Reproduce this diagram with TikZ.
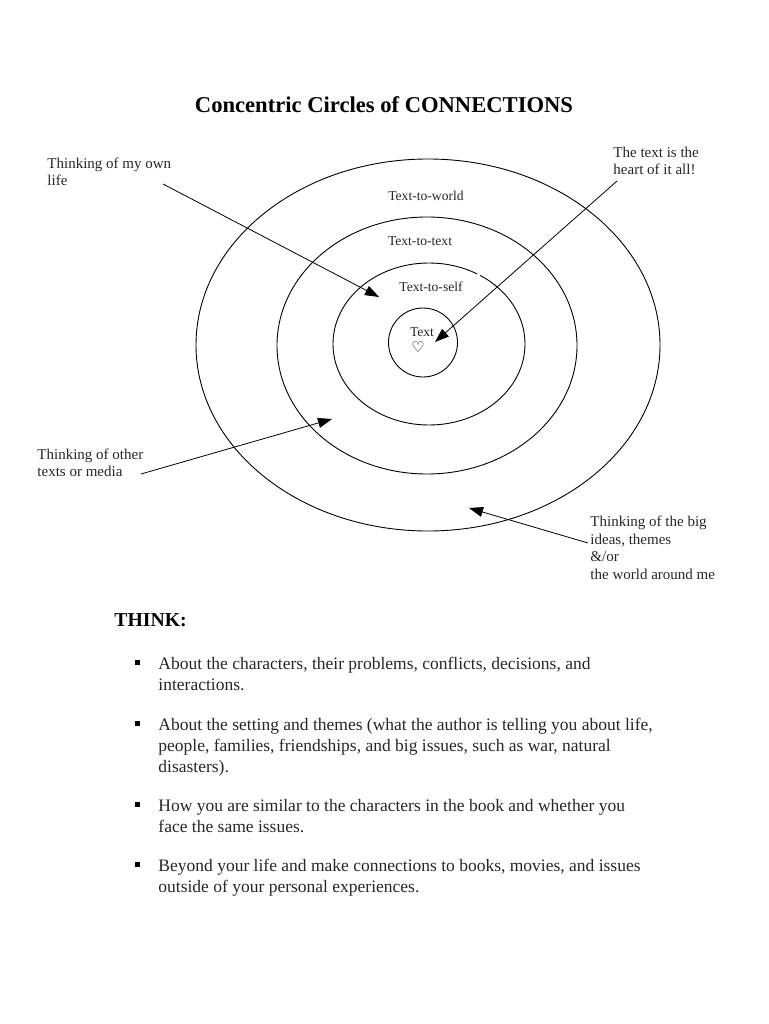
\documentclass[tikz,border=0pt]{standalone}
\usepackage{fontspec}
\setmainfont{Liberation Serif}
\newfontfamily\symbolfont{DejaVu Sans}
\usetikzlibrary{arrows.meta, positioning}
\tikzset{
	smalltext/.style={font=\fontsize{13.6}{17.5}\selectfont, inner sep=0pt, align=left, text=black!85}
}
\tikzset{
	sidetext/.style={font=\fontsize{15}{17.5}\selectfont, inner sep=0pt, align=left, anchor=north west, text=black!85}
}
\tikzset{
	bodytext/.style={font=\fontsize{17.5}{20.8}\selectfont, inner sep=0pt, align=left, anchor=north west, text=black!85}
}
\tikzset{
	bulletmark/.style={fill=black, inner sep=0pt, minimum size=5pt, rectangle}
}
\tikzset{
	pointer/.style={-{Triangle[length=14pt,width=10pt]}, line width=0.8pt}
}

\begin{document}
\begin{tikzpicture}[x=1pt,y=-1pt,line width=0.9pt]
      \useasboundingbox (0,0) rectangle (768,1024);
      % title
      \node[font=\fontsize{22.6}{26}\selectfont\bfseries, inner sep=0pt] (title) at (384,105) {Concentric Circles of CONNECTIONS};
      % circles
      \draw (428,345) ellipse [x radius=232, y radius=186];
      \draw (427,345.5) ellipse [x radius=150, y radius=128.5];
      \draw (429,344) ellipse [x radius=96, y radius=81];
      \draw (423,342.5) ellipse [x radius=34.5, y radius=34.5];
      \fill[white] (477,270) rectangle (480,276);
      % circle labels
      \node[smalltext] (world) at (426,196) {Text-to-world};
      \node[smalltext] (other) at (420,241) {Text-to-text};
      \node[smalltext] (self) at (431,287) {Text-to-self};
      \node[smalltext] (core) at (422,332) {Text};
      \node[font=\symbolfont\bfseries\fontsize{15}{15}\selectfont, inner sep=0pt] (heart) at (418,347) {♡};
      % side labels
      \node[sidetext] (own) at (47,157) {Thinking of my own\\life};
      \node[sidetext] (hearttext) at (613,146.5) {The text is the\\heart of it all!};
      \node[sidetext] (media) at (37,448) {Thinking of other\\texts or media};
      \node[sidetext] (big) at (590,515.5) {Thinking of the big\\ideas, themes\\\&/or\\the world around me};
      % arrows
      \coordinate (ownstart) at (163,184);
      \coordinate (ownend) at (379,297);
      \coordinate (heartstart) at (617,181);
      \coordinate (heartend) at (435,342);
      \coordinate (mediastart) at (141,474);
      \coordinate (mediaend) at (332,419);
      \coordinate (bigstart) at (588,543);
      \coordinate (bigend) at (469,508);
      \draw[pointer] (ownstart) -- (ownend);
      \draw[pointer] (heartstart) -- (heartend);
      \draw[pointer] (mediastart) -- (mediaend);
      \draw[pointer] (bigstart) -- (bigend);
      % think list
      \node[font=\fontsize{19.7}{22}\selectfont\bfseries, inner sep=0pt, anchor=west] (think) at (114,620) {THINK:};
      \foreach \y in {662,723,804,864} {
        \node[bulletmark] (mark\y) at (137.5,\y) {};
      }
      \node[bodytext] (characters) at (158,657) {About the characters, their problems, conflicts, decisions, and\\interactions.};
      \node[bodytext] (setting) at (158,718) {About the setting and themes (what the author is telling you about life,\\people, families, friendships, and big issues, such as war, natural\\disasters).};
      \node[bodytext] (similar) at (158,799) {How you are similar to the characters in the book and whether you\\face the same issues.};
      \node[bodytext] (beyond) at (158,859) {Beyond your life and make connections to books, movies, and issues\\outside of your personal experiences.};
    \end{tikzpicture}
\end{document}
